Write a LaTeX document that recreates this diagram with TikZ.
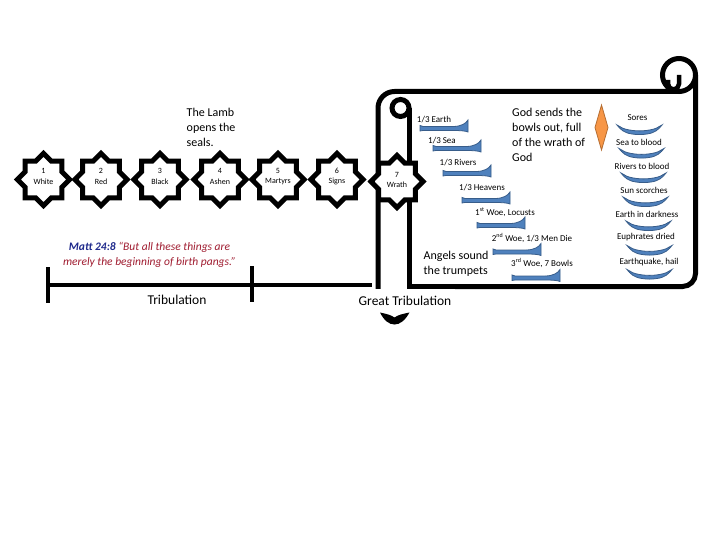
\documentclass[tikz,border=0pt]{standalone}
\usepackage{fontspec}
\setmainfont{Carlito}
\usetikzlibrary{shapes.geometric}
\definecolor{tblue}{HTML}{4F81BD}
\definecolor{tedge}{HTML}{385D8A}
\definecolor{dorange}{HTML}{F79646}
\definecolor{dedge}{HTML}{B66D31}
\definecolor{mattblue}{HTML}{1F2A8C}
\definecolor{mattred}{HTML}{A01C30}
\begin{document}
\begin{tikzpicture}[x=1pt,y=-1pt,
  seal/.style={star,star points=8,star point ratio=1.3,minimum size=52pt,inner sep=0pt,draw=black,line width=5pt,fill=white},
  sealtext/.style={font=\fontsize{8}{10.5}\selectfont,align=center,inner sep=0pt},
  scrollline/.style={line width=5pt,draw=black},
  tlline/.style={line width=4pt,draw=black},
  smalllabel/.style={font=\fontsize{9}{11}\selectfont,inner sep=0pt},
  bodytext/.style={font=\fontsize{12}{15}\selectfont,align=left,inner sep=0pt,anchor=west},
  horn/.style={fill=tblue,draw=tedge,line width=0.8pt},
  pics/trumpet/.style={code={\path[horn] (0,5.5) -- (0,11) -- (3,10.5) -- (33,10.5) .. controls (41,10.5) and (46,11) .. (48,12) -- (48,0) .. controls (46,3.5) and (41,6.5) .. (33,6.5) -- (3,6.5) -- cycle;}},
  pics/bowl/.style={code={\path[horn] (0,0) .. controls (3,1) and (4,3) .. (8,4) .. controls (17,6.5) and (28,6.5) .. (37,4) .. controls (41,3) and (42,1) .. (45,0) .. controls (42,4) and (38,8) .. (30,9) .. controls (25,9.8) and (20,9.8) .. (15,9) .. controls (7,8) and (3,4) .. (0,0) -- cycle;}},
]
\fill[white] (0,0) rectangle (720,540);
\useasboundingbox (0,0) rectangle (720,540);

% timeline
\coordinate (ta) at (46,285);
\coordinate (tb) at (372,285);
\coordinate (tk1a) at (48,267); \coordinate (tk1b) at (48,303);
\coordinate (tk2a) at (251.5,266); \coordinate (tk2b) at (251.5,302);
\draw[tlline] (ta) -- (tb);
\draw[tlline] (tk1a) -- (tk1b);
\draw[tlline] (tk2a) -- (tk2b);

% scroll
\draw[scrollline] (378,300) -- (378,108) arc[start angle=180,end angle=270,radius=16.5] -- (679,91.5);
\draw[scrollline] (679,75) circle[radius=16.5];
\draw[line width=4.5pt] (679,75) -- (679,84) arc[start angle=0,end angle=180,radius=5.5] -- (668,80);
\draw[scrollline] (695.5,75) -- (695.5,273.5) arc[start angle=0,end angle=90,radius=13] -- (409,286.5);
\draw[scrollline] (400.5,108) circle[radius=8.5];
\draw[scrollline] (409,108) -- (409,300);

% seals
\foreach \i/\cx/\cy/\ty/\n/\w in {1/43.5/179.5/176.5/1/White,2/101/179.5/176.5/2/Red,3/160/179.5/176.5/3/Black,4/220/179.5/176.5/4/Ashen,5/278/179.5/176.5/5/Martyrs,6/337/179.5/176.5/6/Signs,7/397/181.5/180/7/Wrath}{
  \node[seal] (s\i) at (\cx,\cy) {};
  \node[sealtext] (s\i t) at (\cx,\ty) {\n\\\w};
}

\node[bodytext] (lamb) at (186.5,127) {The Lamb\\opens the\\seals.};

% trumpets
\pic at (420,120) {trumpet};
\pic at (433,140) {trumpet};
\pic at (443,165) {trumpet};
\pic at (462,192) {trumpet};
\pic at (477,217) {trumpet};
\pic at (493,243.5) {trumpet};
\pic at (512,269.5) {trumpet};
\node[smalllabel] (t1) at (434,120) {1/3 Earth};
\node[smalllabel] (t2) at (442,141) {1/3 Sea};
\node[smalllabel] (t3) at (458,163) {1/3 Rivers};
\node[smalllabel] (t4) at (482,188) {1/3 Heavens};
\node[smalllabel] (t5) at (505,212) {1\textsuperscript{st} Woe, Locusts};
\node[smalllabel] (t6) at (532,238) {2\textsuperscript{nd} Woe, 1/3 Men Die};
\node[smalllabel] (t7) at (542,263) {3\textsuperscript{rd} Woe, 7 Bowls};

\node[bodytext] (god) at (512,135) {God sends the\\bowls out, full\\of the wrath of\\God};
\node[bodytext] (angels) at (423.5,264) {Angels sound\\the trumpets};

% diamond
\path[fill=dorange,draw=dedge,line width=0.8pt] (601.5,105) -- (608,127.5) -- (601.5,150) -- (595,127.5) -- cycle;

% bowls
\pic at (617,125) {bowl};
\pic at (619,148.5) {bowl};
\pic at (621,173) {bowl};
\pic at (623,197) {bowl};
\pic at (626,221) {bowl};
\pic at (627,245.5) {bowl};
\pic at (627,269.5) {bowl};
\node[smalllabel] (b1) at (637.5,118) {Sores};
\node[smalllabel] (b2) at (639,142) {Sea to blood};
\node[smalllabel] (b3) at (642,166) {Rivers to blood};
\node[smalllabel] (b4) at (644,190) {Sun scorches};
\node[smalllabel] (b5) at (647,214) {Earth in darkness};
\node[smalllabel] (b6) at (646,237.5) {Euphrates dried};
\node[smalllabel] (b7) at (649,262) {Earthquake, hail};

% bottom texts
\node[font=\itshape\fontsize{11.5}{15}\selectfont,align=center,inner sep=0pt] (matt) at (149.5,254.5)
  {\textcolor{mattblue}{\bfseries Matt 24:8} \textcolor{mattred}{“But all these things are}\\\textcolor{mattred}{merely the beginning of birth pangs.”}};
\node[font=\fontsize{13.5}{16}\selectfont,inner sep=0pt] (trib) at (177,300) {Tribulation};
\node[fill=white,inner xsep=4pt,inner ysep=0pt,minimum height=23pt,font=\fontsize{13.5}{16}\selectfont] (gt) at (405,300.5) {Great Tribulation};
\fill (380,312.5) .. controls (387,314) and (391,315) .. (394.5,317.5) .. controls (398,315) and (402,314) .. (409.5,312.5) .. controls (405,320.5) and (400,324.5) .. (394.5,324.5) .. controls (389,324.5) and (384,320.5) .. (380,312.5) -- cycle;
\end{tikzpicture}
\end{document}
